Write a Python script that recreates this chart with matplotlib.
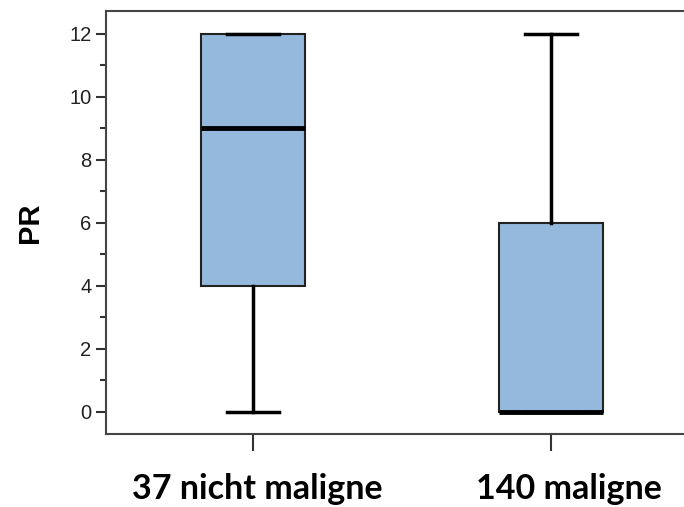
import matplotlib
matplotlib.use("Agg")
import matplotlib.pyplot as plt
from matplotlib.transforms import ScaledTranslation

categories = ["37 nicht maligne", "140 maligne"]
whislo = [0, 0]
q1 = [4, 0]
med = [9, 0]
q3 = [12, 6]
whishi = [12, 12]
yticks = [0, 2, 4, 6, 8, 10, 12]

fig = plt.figure(figsize=(6.84, 5.07), dpi=100)
ax = fig.add_axes([106/684, 1-434/507, 1.01-106/684, (434-11)/507])

stats = [dict(label=c, whislo=a, q1=b, med=m, q3=d, whishi=e, fliers=[])
         for c, a, b, m, d, e in zip(categories, whislo, q1, med, q3, whishi)]
ax.bxp(stats, positions=[1, 2], widths=0.35, patch_artist=True, showfliers=False,
       boxprops=dict(facecolor="#95b9dc", edgecolor="#222222", linewidth=1.5),
       medianprops=dict(color="black", linewidth=3.5),
       whiskerprops=dict(color="black", linewidth=2.5),
       capprops=dict(color="black", linewidth=2.5), capwidths=0.175)

ax.set_xlim(0.507, 2.47)
ax.set_ylim(-0.70, 12.73)
ax.set_yticks(yticks)
ax.set_yticks([1, 3, 5, 7, 9, 11], minor=True)
ax.tick_params(axis="y", which="major", length=7, width=1.5, labelsize=14.5, colors="#333333")
ax.tick_params(axis="y", which="minor", length=4, width=1.5, colors="#333333")
ax.tick_params(axis="x", length=12, width=1.5, pad=16, colors="#333333")
for lab in ax.get_yticklabels():
    lab.set_color("#222222")
    lab.set_fontfamily("Liberation Sans")
ax.set_xticks([1, 2])
ax.set_xticklabels(categories, fontfamily="Lato", fontweight="bold", fontsize=24.5, color="black")
shifts = [4, 18]
for lab, dx in zip(ax.get_xticklabels(), shifts):
    lab.set_transform(lab.get_transform() + ScaledTranslation(dx/100, 0, fig.dpi_scale_trans))
ax.set_ylabel("PR", fontsize=21, fontweight="bold", fontfamily="Liberation Sans", labelpad=18)
ax.spines["right"].set_visible(False)
for s in ["left", "top", "bottom"]:
    ax.spines[s].set_linewidth(1.5)
    ax.spines[s].set_color("#444444")

fig.savefig("out.png", dpi=100)
